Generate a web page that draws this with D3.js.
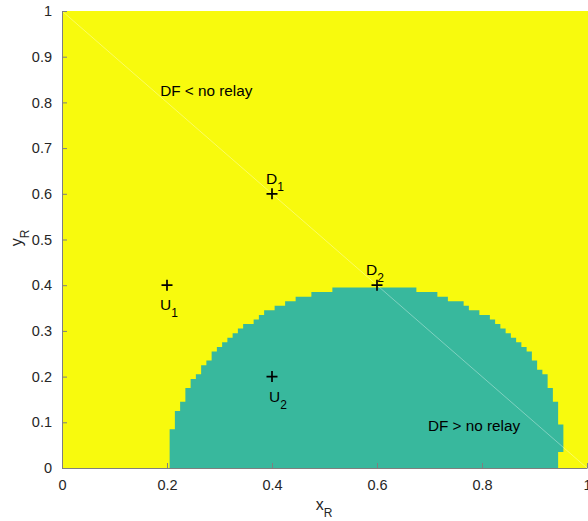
<!DOCTYPE html>
<html>
<head>
<meta charset="utf-8">
<script src="https://cdn.jsdelivr.net/npm/d3@7"></script>
<style>
  body { margin: 0; background: #fff; }
  text { font-family: "Liberation Sans", Arial, Helvetica, sans-serif; }
</style>
</head>
<body>
<svg id="chart" width="588" height="521"></svg>
<script>
// region where DF beats no relay: one column of cells per x grid value
const colX = [0.21, 0.22, 0.23, 0.24, 0.25, 0.26, 0.27, 0.28, 0.29, 0.30,
              0.31, 0.32, 0.33, 0.34, 0.35, 0.36, 0.37, 0.38, 0.39, 0.40,
              0.41, 0.42, 0.43, 0.44, 0.45, 0.46, 0.47, 0.48, 0.49, 0.50,
              0.51, 0.52, 0.53, 0.54, 0.55, 0.56, 0.57, 0.58, 0.59, 0.60,
              0.61, 0.62, 0.63, 0.64, 0.65, 0.66, 0.67, 0.68, 0.69, 0.70,
              0.71, 0.72, 0.73, 0.74, 0.75, 0.76, 0.77, 0.78, 0.79, 0.80,
              0.81, 0.82, 0.83, 0.84, 0.85, 0.86, 0.87, 0.88, 0.89, 0.90,
              0.91, 0.92, 0.93, 0.94, 0.95];
const colTop = [0.08, 0.12, 0.14, 0.17, 0.19, 0.20, 0.22, 0.23, 0.25, 0.26,
                0.27, 0.28, 0.29, 0.30, 0.31, 0.31, 0.32, 0.33, 0.34, 0.34,
                0.35, 0.35, 0.36, 0.36, 0.37, 0.37, 0.37, 0.38, 0.38, 0.38,
                0.38, 0.39, 0.39, 0.39, 0.39, 0.39, 0.39, 0.39, 0.39, 0.39,
                0.39, 0.39, 0.39, 0.39, 0.39, 0.39, 0.39, 0.38, 0.38, 0.38,
                0.38, 0.37, 0.37, 0.36, 0.36, 0.36, 0.35, 0.34, 0.34, 0.33,
                0.33, 0.32, 0.31, 0.30, 0.29, 0.28, 0.27, 0.26, 0.25, 0.23,
                0.21, 0.20, 0.17, 0.14, 0.09];
const colBottom = [0, 0, 0, 0, 0, 0, 0, 0, 0, 0,
                   0, 0, 0, 0, 0, 0, 0, 0, 0, 0,
                   0, 0, 0, 0, 0, 0, 0, 0, 0, 0,
                   0, 0, 0, 0, 0, 0, 0, 0, 0, 0,
                   0, 0, 0, 0, 0, 0, 0, 0, 0, 0,
                   0, 0, 0, 0, 0, 0, 0, 0, 0, 0,
                   0, 0, 0, 0, 0, 0, 0, 0, 0, 0,
                   0, 0, 0, 0, 0.04];
const cell = 0.01;

// node positions
const nodeName = ["D", "D", "U", "U"];
const nodeSub = ["1", "2", "1", "2"];
const nodeX = [0.4, 0.6, 0.2, 0.4];
const nodeY = [0.6, 0.4, 0.4, 0.2];
// label placement relative to marker (pixels)
const labelDx = [-6, -11, -7, -3];
const labelDy = [-10, -10, 25, 25];

const noteText = ["DF < no relay", "DF > no relay"];
const noteX = [0.187, 0.697];
const noteY = [0.814, 0.081];

const xTicks = [0, 0.2, 0.4, 0.6, 0.8, 1];
const yTicks = [0, 0.1, 0.2, 0.3, 0.4, 0.5, 0.6, 0.7, 0.8, 0.9, 1];

const yellow = "#f8fa0d", teal = "#38b89d", ink = "#262626";

const svg = d3.select("#chart");
const x = d3.scaleLinear().domain([0, 1]).range([62, 587]);
const y = d3.scaleLinear().domain([0, 1]).range([468, 11]);

// background (no relay better)
svg.append("rect")
  .attr("x", x(0)).attr("y", y(1))
  .attr("width", 588 - x(0)).attr("height", y(0) - y(1))
  .attr("fill", yellow);

// DF region as a stepped area
const pts = colX.map((v, i) => ({x: v - cell / 2, top: colTop[i] + cell / 2,
                                  bot: Math.max(0, colBottom[i] - cell / 2)}));
const last = pts[pts.length - 1];
pts.push({x: colX[colX.length - 1] + cell / 2, top: last.top, bot: last.bot});

const area = d3.area()
  .x(d => x(d.x))
  .y0(d => y(d.bot))
  .y1(d => y(d.top))
  .curve(d3.curveStepAfter);

svg.append("path")
  .attr("d", area(pts))
  .attr("fill", teal);

// line from source to destination
svg.append("line")
  .attr("x1", x(0)).attr("y1", y(1))
  .attr("x2", x(1)).attr("y2", y(0))
  .attr("stroke", "#ffffff").attr("stroke-opacity", 0.45)
  .attr("stroke-width", 0.8);

// axes
const xAxis = d3.axisBottom(x).tickValues(xTicks).tickSize(0).tickPadding(12)
  .tickFormat(d3.format("~g"));
const yAxis = d3.axisLeft(y).tickValues(yTicks).tickSize(0).tickPadding(10)
  .tickFormat(d3.format("~g"));

const gx = svg.append("g").attr("transform", `translate(0,${y(0)})`).call(xAxis);
const gy = svg.append("g").attr("transform", `translate(${x(0)},0)`).call(yAxis);
[gx, gy].forEach(g => {
  g.select(".domain").attr("stroke", "#7f7f7f").attr("stroke-width", 1);
  g.selectAll("text").attr("fill", ink).style("font-size", "14.5px")
    .style("font-family", "Liberation Sans, Arial, sans-serif");
});
// inward ticks
gx.selectAll(".tick").append("line").attr("y2", -5).attr("stroke", "#7f7f7f");
gy.selectAll(".tick").append("line").attr("x2", 5).attr("stroke", "#7f7f7f");

// axis labels
const xl = svg.append("text").attr("x", 324).attr("y", 510)
  .attr("text-anchor", "middle").attr("fill", ink).style("font-size", "16px");
xl.append("tspan").text("x");
xl.append("tspan").attr("dy", 7).style("font-size", "12px").text("R");

const yl = svg.append("text")
  .attr("transform", "translate(22,238) rotate(-90)")
  .attr("text-anchor", "middle").attr("fill", ink).style("font-size", "16px");
yl.append("tspan").text("y");
yl.append("tspan").attr("dy", 7).style("font-size", "12px").text("R");

// node markers
const g = svg.append("g");
nodeX.forEach((nx, i) => {
  const cx = x(nx), cy = y(nodeY[i]);
  g.append("path")
    .attr("d", `M${cx - 5.5},${cy}H${cx + 5.5}M${cx},${cy - 5.5}V${cy + 5.5}`)
    .attr("stroke", "#000").attr("stroke-width", 1.7).attr("fill", "none");
  const t = g.append("text").attr("fill", "#000").style("font-size", "15.5px")
    .attr("x", cx + labelDx[i])
    .attr("y", cy + labelDy[i]);
  t.append("tspan").text(nodeName[i]);
  t.append("tspan").attr("dy", 7).style("font-size", "12px").text(nodeSub[i]);
});

noteText.forEach((s, i) => {
  svg.append("text").attr("x", x(noteX[i])).attr("y", y(noteY[i]))
    .attr("fill", "#000").style("font-size", "15.3px").text(s);
});
</script>
</body>
</html>
